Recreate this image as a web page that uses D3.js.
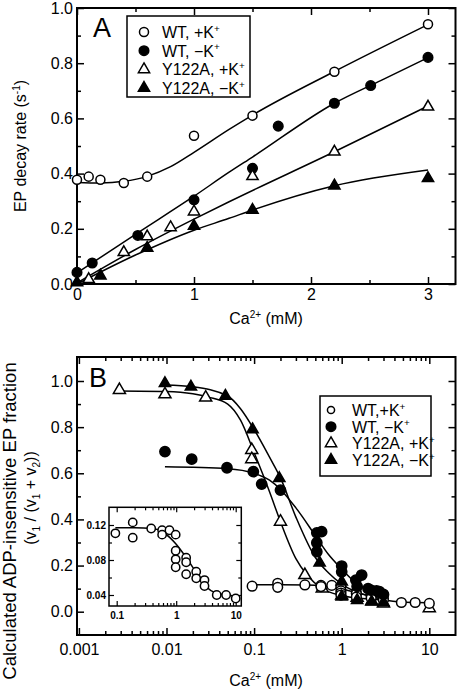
<!DOCTYPE html>
<html><head><meta charset="utf-8">
<script src="https://cdn.jsdelivr.net/npm/d3@7"></script>
<style>
body{margin:0;background:#fff}
svg{display:block}
text{font-family:"Liberation Sans",Arial,Helvetica,sans-serif;fill:#000}
</style>
</head><body>
<svg id="chart" width="458" height="692"></svg>
<script>
// ---------------- DATA ----------------
// Panel A: EP decay rate vs Ca2+ (mM)
const wtPlusA      = [[0,0.378],[0.1,0.389],[0.2,0.378],[0.4,0.366],[0.6,0.389],[1.0,0.537],[1.5,0.61],[2.2,0.769],[3.0,0.941]];
const wtMinusA     = [[0,0.042],[0.13,0.076],[0.52,0.176],[1.0,0.305],[1.5,0.419],[1.72,0.572],[2.2,0.655],[2.51,0.719],[3.0,0.821]];
const y122PlusA    = [[0.1,0.017],[0.4,0.115],[0.6,0.172],[0.8,0.205],[1.0,0.262],[1.5,0.39],[2.2,0.479],[3.0,0.642]];
const y122MinusA   = [[0,0.005],[0.2,0.03],[0.6,0.13],[1.0,0.21],[1.5,0.268],[2.2,0.356],[3.0,0.383]];
const fitWtPlusA    = [[0,0.368],[0.2,0.366],[0.4,0.372],[0.6,0.39],[0.8,0.425],[1.0,0.477],[1.3,0.56],[1.5,0.612],[2.2,0.77],[3.0,0.94]];
const fitWtMinusA   = [[0,0.04],[0.5,0.18],[1.0,0.318],[1.3,0.405],[1.5,0.46],[2.2,0.655],[2.6,0.738],[3.0,0.82]];
const fitY122PlusA  = [[0,0.004],[0.5,0.125],[1.0,0.235],[1.3,0.298],[2.2,0.479],[3.0,0.645]];
const fitY122MinusA = [[0,0.0],[0.5,0.105],[1.0,0.195],[1.3,0.238],[1.5,0.268],[2.2,0.356],[3.0,0.413]];
const ticksAx = [0,1,2,3];
const ticksAy = [0,0.2,0.4,0.6,0.8,1.0];

// Panel B: ADP-insensitive EP fraction vs Ca2+ (mM), log scale
const wtPlusB    = [[0.095,0.1105],[0.186,0.123],[0.186,0.1055],[0.38,0.116],[0.58,0.114],[0.58,0.109],[0.77,0.114],[0.98,0.109],[0.98,0.0906],[0.98,0.0808],[0.98,0.0717],[1.47,0.0826],[1.47,0.0774],[1.47,0.0637],[2.17,0.0666],[2.17,0.0591],[2.99,0.0571],[2.99,0.0503],[4.8,0.040],[6.9,0.040],[10,0.036]];
const wtMinusB   = [[0.0096,0.694],[0.0194,0.661],[0.049,0.624],[0.098,0.607],[0.122,0.553],[0.2,0.527],[0.52,0.342],[0.52,0.299],[0.52,0.26],[0.59,0.347],[1.0,0.198],[1.0,0.173],[1.45,0.137],[1.69,0.159],[1.5,0.11],[2.0,0.10],[2.14,0.094],[2.5,0.09],[2.7,0.087],[3.0,0.075]];
const y122PlusB  = [[0.0029,0.961],[0.0096,0.942],[0.028,0.928],[0.094,0.701],[0.094,0.661],[0.2,0.39],[0.38,0.159],[0.6,0.10],[1.0,0.07],[1.5,0.06],[2.2,0.045],[3.0,0.035],[10,0.015]];
const y122MinusB = [[0.0096,0.99],[0.019,0.975],[0.047,0.935],[0.096,0.79],[0.194,0.578],[0.56,0.212],[1.0,0.13],[1.0,0.065],[1.5,0.05],[2.2,0.043],[3.0,0.04]];
const fitWtPlusB    = [[0.095,0.117],[0.2,0.117],[0.4,0.116],[0.6,0.112],[0.8,0.105],[1.0,0.098],[1.5,0.082],[2.2,0.065],[3.2,0.0495],[4.7,0.042],[7,0.04],[10,0.039]];
const fitWtMinusB   = [[0.0096,0.628],[0.05,0.62],[0.1,0.60],[0.15,0.57],[0.2,0.53],[0.3,0.45],[0.5,0.33],[0.7,0.25],[1.0,0.185],[1.5,0.12],[2.0,0.09],[3.0,0.065]];
const fitY122PlusB  = [[0.0028,0.957],[0.01,0.955],[0.02,0.945],[0.03,0.93],[0.05,0.9],[0.07,0.83],[0.1,0.69],[0.15,0.52],[0.2,0.39],[0.3,0.23],[0.4,0.16],[0.6,0.10],[1.0,0.07],[2.0,0.055],[3.0,0.05]];
const fitY122MinusB = [[0.0096,0.983],[0.02,0.975],[0.05,0.935],[0.07,0.88],[0.1,0.79],[0.15,0.67],[0.2,0.58],[0.3,0.41],[0.5,0.235],[0.7,0.17],[1.0,0.12],[2.0,0.07],[3.0,0.06]];
const ticksBx = [0.001,0.01,0.1,1,10];
const ticksBxLabels = ["0.001","0.01","0.1","1","10"];
const ticksBy = [0,0.2,0.4,0.6,0.8,1.0];

// Inset
const fitInset = fitWtPlusB;
const ticksInsetX = [0.1,1,10];
const ticksInsetY = [0.04,0.08,0.12];

const legendLabelsA = [["WT, +K","+"],["WT, \u2212K","+"],["Y122A, +K","+"],["Y122A, \u2212K","+"]];
const legendLabelsB = [["WT,+K","+"],["WT, \u2212K","+"],["Y122A, +K","+"],["Y122A, \u2212K","+"]];

// ---------------- DRAW ----------------
const FONT = "Liberation Sans, Arial, sans-serif";
const svg = d3.select("#chart");

const styles = [
  {sym:d3.symbolCircle, fill:"#fff", size:64},
  {sym:d3.symbolCircle, fill:"#000", size:72},
  {sym:d3.symbolTriangle, fill:"#fff", size:55},
  {sym:d3.symbolTriangle, fill:"#000", size:55}
];

function drawMarkers(g, data, st, x, y, scale){
  g.selectAll(null).data(data).enter().append("path")
    .attr("d", d3.symbol().type(st.sym).size(st.size*(scale||1)))
    .attr("transform", d=>`translate(${x(d[0])},${y(d[1])})`)
    .attr("fill", st.fill).attr("stroke","#000").attr("stroke-width",1.5);
}
function drawCurve(g, data, x, y, w){
  const line = d3.line().x(d=>x(d[0])).y(d=>y(d[1])).curve(d3.curveMonotoneX);
  g.append("path").attr("d", line(data)).attr("fill","none").attr("stroke","#000").attr("stroke-width",w||1.5);
}
function tickAxis(g, axis, tr){
  const a = g.append("g").attr("transform", tr).call(axis);
  a.select(".domain").remove();
  a.selectAll("line").attr("stroke","#000").attr("stroke-width",1.5);
  a.selectAll("text").attr("font-family",FONT).attr("fill","#000");
  return a;
}
function supLabel(g, x, y, main, sup, size, anchor){
  const t = g.append("text").attr("x",x).attr("y",y).attr("font-size",size).attr("text-anchor",anchor||"start");
  t.append("tspan").text(main);
  t.append("tspan").attr("dy",-size*0.4).attr("font-size",size*0.62).text(sup);
  return t;
}

// ===== Panel A =====
const A = {l:77, r:455.5, t:8, b:284};
const xA = d3.scaleLinear().domain([0,3]).range([77,428]);
const yA = d3.scaleLinear().domain([0,1]).range([284,8]);
const gA = svg.append("g");

const minorAx = [0.5,1.5,2.5];
const minorAy = d3.range(1,10,2).map(v=>v/10);
tickAxis(gA, d3.axisBottom(xA).tickValues(ticksAx).tickSizeInner(-7).tickPadding(5).tickFormat(d3.format("d")), `translate(0,${A.b})`)
  .selectAll("text").attr("font-size",16);
tickAxis(gA, d3.axisBottom(xA).tickValues(minorAx).tickSizeInner(-4).tickFormat(""), `translate(0,${A.b})`);
tickAxis(gA, d3.axisTop(xA).tickValues(ticksAx).tickSizeInner(-7).tickFormat(""), `translate(0,${A.t})`);
tickAxis(gA, d3.axisTop(xA).tickValues(minorAx).tickSizeInner(-4).tickFormat(""), `translate(0,${A.t})`);
tickAxis(gA, d3.axisLeft(yA).tickValues(ticksAy).tickSizeInner(-7).tickPadding(4).tickFormat(d3.format(".1f")), `translate(${A.l},0)`)
  .selectAll("text").attr("font-size",16);
tickAxis(gA, d3.axisLeft(yA).tickValues(minorAy).tickSizeInner(-4).tickFormat(""), `translate(${A.l},0)`);
tickAxis(gA, d3.axisRight(yA).tickValues(ticksAy).tickSizeInner(-7).tickFormat(""), `translate(${A.r},0)`);
tickAxis(gA, d3.axisRight(yA).tickValues(minorAy).tickSizeInner(-4).tickFormat(""), `translate(${A.r},0)`);

gA.append("rect").attr("x",A.l).attr("y",A.t).attr("width",A.r-A.l).attr("height",A.b-A.t)
  .attr("fill","none").attr("stroke","#000").attr("stroke-width",2);

drawCurve(gA, fitWtPlusA, xA, yA);
drawCurve(gA, fitWtMinusA, xA, yA);
drawCurve(gA, fitY122PlusA, xA, yA);
drawCurve(gA, fitY122MinusA, xA, yA);
drawMarkers(gA, wtPlusA, styles[0], xA, yA);
drawMarkers(gA, wtMinusA, styles[1], xA, yA);
drawMarkers(gA, y122PlusA, styles[2], xA, yA);
drawMarkers(gA, y122MinusA, styles[3], xA, yA);

gA.append("text").attr("x",93).attr("y",37).attr("font-size",27).text("A");

// Legend A
gA.append("rect").attr("x",127).attr("y",16).attr("width",123).attr("height",81)
  .attr("fill","#fff").attr("stroke","#000").attr("stroke-width",1.5);
legendLabelsA.forEach((lab,i)=>{
  const cy = 32 + i*18.7;
  gA.append("path").attr("d", d3.symbol().type(styles[i].sym).size(styles[i].size)())
    .attr("transform",`translate(144,${cy})`).attr("fill",styles[i].fill).attr("stroke","#000").attr("stroke-width",1.5);
  supLabel(gA, 162, cy+6, lab[0], lab[1], 16);
});

// axis titles A
{
  const t = gA.append("text").attr("transform","translate(26,146) rotate(-90)").attr("text-anchor","middle").attr("font-size",16);
  t.append("tspan").text("EP decay rate (s");
  t.append("tspan").attr("dy",-6).attr("font-size",10).text("-1");
  t.append("tspan").attr("dy",6).text(")");
}
{
  const t = gA.append("text").attr("x",266).attr("y",324).attr("text-anchor","middle").attr("font-size",16);
  t.append("tspan").text("Ca");
  t.append("tspan").attr("dy",-6).attr("font-size",10).text("2+");
  t.append("tspan").attr("dy",6).text(" (mM)");
}

// ===== Panel B =====
const B = {l:77, r:455.5, t:357, b:635};
const xB = d3.scaleLog().domain([0.001,10]).range([78.9,429.3]);
const yB = d3.scaleLinear().domain([0,1]).range([611.7,381]);
const gB = svg.append("g");
const minorBx = [];
[0.001,0.01,0.1,1,10].forEach(d=>{ for(let k=2;k<=9;k++){ const v=k*d; if(xB(v)<B.r-1) minorBx.push(v);} });
const minorBy = [0.1,0.3,0.5,0.7,0.9];

tickAxis(gB, d3.axisBottom(xB).tickValues(ticksBx).tickSizeInner(-7).tickPadding(9).tickFormat((d,i)=>ticksBxLabels[i]), `translate(0,${B.b})`)
  .selectAll("text").attr("font-size",16);
tickAxis(gB, d3.axisBottom(xB).tickValues(minorBx).tickSizeInner(-4).tickFormat(""), `translate(0,${B.b})`);
tickAxis(gB, d3.axisTop(xB).tickValues(ticksBx).tickSizeInner(-7).tickFormat(""), `translate(0,${B.t})`);
tickAxis(gB, d3.axisTop(xB).tickValues(minorBx).tickSizeInner(-4).tickFormat(""), `translate(0,${B.t})`);
tickAxis(gB, d3.axisLeft(yB).tickValues(ticksBy).tickSizeInner(-7).tickPadding(4).tickFormat(d3.format(".1f")), `translate(${B.l},0)`)
  .selectAll("text").attr("font-size",16);
tickAxis(gB, d3.axisLeft(yB).tickValues(minorBy).tickSizeInner(-4).tickFormat(""), `translate(${B.l},0)`);
tickAxis(gB, d3.axisRight(yB).tickValues(ticksBy).tickSizeInner(-7).tickFormat(""), `translate(${B.r},0)`);
tickAxis(gB, d3.axisRight(yB).tickValues(minorBy).tickSizeInner(-4).tickFormat(""), `translate(${B.r},0)`);

gB.append("rect").attr("x",B.l).attr("y",B.t).attr("width",B.r-B.l).attr("height",B.b-B.t)
  .attr("fill","none").attr("stroke","#000").attr("stroke-width",2);

drawCurve(gB, fitWtPlusB, xB, yB);
drawCurve(gB, fitWtMinusB, xB, yB);
drawCurve(gB, fitY122PlusB, xB, yB);
drawCurve(gB, fitY122MinusB, xB, yB);
drawMarkers(gB, y122PlusB, styles[2], xB, yB, 1.15);
drawMarkers(gB, wtPlusB, styles[0], xB, yB, 1.15);
drawMarkers(gB, wtMinusB, styles[1], xB, yB, 1.15);
drawMarkers(gB, y122MinusB, styles[3], xB, yB, 1.0);

gB.append("text").attr("x",89).attr("y",387).attr("font-size",27).text("B");

// Legend B
gB.append("rect").attr("x",320).attr("y",396).attr("width",111).attr("height",80)
  .attr("fill","#fff").attr("stroke","#000").attr("stroke-width",1.5);
legendLabelsB.forEach((lab,i)=>{
  const cy = 410 + i*16.7;
  const sz = i===0 ? 40 : styles[i].size;
  gB.append("path").attr("d", d3.symbol().type(styles[i].sym).size(sz)())
    .attr("transform",`translate(331,${cy})`).attr("fill",styles[i].fill).attr("stroke","#000").attr("stroke-width",1.5);
  supLabel(gB, 352, cy+6, lab[0], lab[1], 16);
});

// axis titles B
gB.append("text").attr("transform","translate(16,521) rotate(-90)").attr("text-anchor","middle").attr("font-size",18.5)
  .text("Calculated ADP-insensitive EP fraction");
{
  const t = gB.append("text").attr("transform","translate(36,498) rotate(-90)").attr("text-anchor","middle").attr("font-size",16);
  t.append("tspan").text("(v");
  t.append("tspan").attr("dy",4).attr("font-size",10).text("1");
  t.append("tspan").attr("dy",-4).text(" / (v");
  t.append("tspan").attr("dy",4).attr("font-size",10).text("1");
  t.append("tspan").attr("dy",-4).text(" + v");
  t.append("tspan").attr("dy",4).attr("font-size",10).text("2");
  t.append("tspan").attr("dy",-4).text("))");
}
{
  const t = gB.append("text").attr("x",266).attr("y",686).attr("text-anchor","middle").attr("font-size",16);
  t.append("tspan").text("Ca");
  t.append("tspan").attr("dy",-6).attr("font-size",10).text("2+");
  t.append("tspan").attr("dy",6).text(" (mM)");
}

// ===== Inset =====
const I = {l:109, r:241.3, t:507.3, b:606};
const xI = d3.scaleLog().domain([0.1,10]).range([116.7,235.7]);
const yI = d3.scaleLinear().domain([0.04,0.12]).range([595,525]);
const gI = svg.append("g");
gI.append("rect").attr("x",I.l).attr("y",I.t).attr("width",I.r-I.l).attr("height",I.b-I.t)
  .attr("fill","#fff").attr("stroke","none");
const minorIx = [];
[0.1,1].forEach(d=>{ for(let k=2;k<=9;k++) minorIx.push(k*d); });
const minorIy = [0.06,0.10];
tickAxis(gI, d3.axisBottom(xI).tickValues(ticksInsetX).tickSizeInner(-5).tickPadding(6).tickFormat(d3.format("~g")), `translate(0,${I.b})`)
  .selectAll("text").attr("font-size",10).attr("font-weight","bold");
tickAxis(gI, d3.axisBottom(xI).tickValues(minorIx).tickSizeInner(-3).tickFormat(""), `translate(0,${I.b})`);
tickAxis(gI, d3.axisTop(xI).tickValues(ticksInsetX).tickSizeInner(-5).tickFormat(""), `translate(0,${I.t})`);
tickAxis(gI, d3.axisTop(xI).tickValues(minorIx).tickSizeInner(-3).tickFormat(""), `translate(0,${I.t})`);
tickAxis(gI, d3.axisLeft(yI).tickValues(ticksInsetY).tickSizeInner(-5).tickPadding(3).tickFormat(d3.format(".2f")), `translate(${I.l},0)`)
  .selectAll("text").attr("font-size",10).attr("font-weight","bold");
tickAxis(gI, d3.axisLeft(yI).tickValues(minorIy).tickSizeInner(-3).tickFormat(""), `translate(${I.l},0)`);
tickAxis(gI, d3.axisRight(yI).tickValues(ticksInsetY).tickSizeInner(-5).tickFormat(""), `translate(${I.r},0)`);
tickAxis(gI, d3.axisRight(yI).tickValues(minorIy).tickSizeInner(-3).tickFormat(""), `translate(${I.r},0)`);
gI.selectAll("line").attr("stroke-width",1.2);
gI.append("rect").attr("x",I.l).attr("y",I.t).attr("width",I.r-I.l).attr("height",I.b-I.t)
  .attr("fill","none").attr("stroke","#000").attr("stroke-width",1.5);
drawCurve(gI, fitInset, xI, yI, 1.5);
drawMarkers(gI, wtPlusB, styles[0], xI, yI, 0.85);
</script>
</body></html>
